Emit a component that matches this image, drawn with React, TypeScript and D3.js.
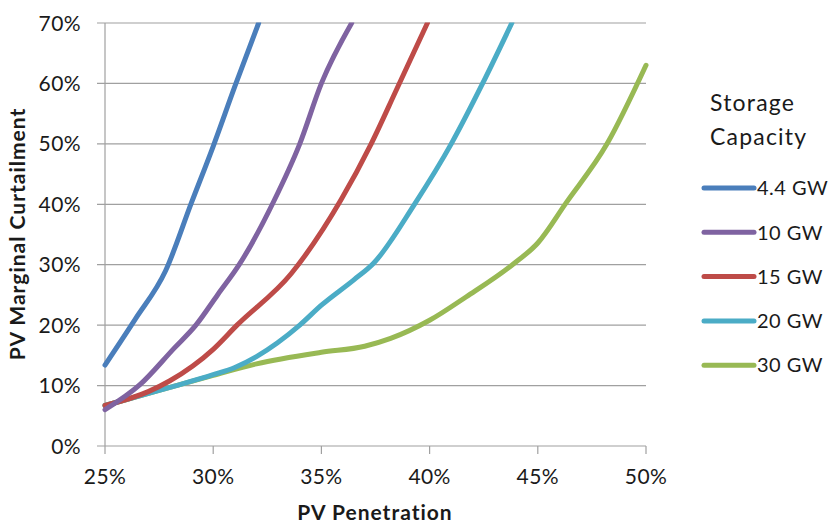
import { useMemo } from "react";
import * as d3 from "d3";

// PV penetration (%) / marginal curtailment (%) per storage capacity
const blueX = [25, 26.4, 27.8, 29, 30, 31, 32.1];
const blueY = [13.4, 21, 29, 40.3, 49.6, 59.5, 70];

const purpleX = [25, 26.6, 28.2, 29.2, 30.2, 31.2, 32.8, 34, 35, 36.4];
const purpleY = [6, 10.1, 16.2, 20, 25, 30, 40.5, 50, 60, 70];

const redX = [25, 27, 28, 30, 31.1, 33.6, 35.9, 37.3, 38.5, 39.9];
const redY = [6.7, 9, 10.8, 16, 20, 28.5, 40.7, 50, 59.2, 70];

const cyanX = [25, 28, 30, 31, 32, 34, 35, 36.5, 37.4, 39.3, 41, 42.45, 43.8];
const cyanY = [6.7, 9.7, 11.8, 13, 14.8, 20, 23.3, 27.5, 30.2, 40, 50, 60, 70];

const greenX = [25, 27, 30, 32, 35, 37, 38.2, 40, 41.7, 43.9, 45, 46.3, 48.2, 50];
const greenY = [6.7, 8.7, 11.7, 13.6, 15.5, 16.5, 17.8, 20.8, 24.7, 30.2, 33.6, 40.2, 50, 63];

const seriesNames = ["4.4 GW", "10 GW", "15 GW", "20 GW", "30 GW"];
const seriesColors = ["#4A7EBB", "#7F63A1", "#BE4B48", "#4BACC6", "#98B954"];
const seriesX = [blueX, purpleX, redX, cyanX, greenX];
const seriesY = [blueY, purpleY, redY, cyanY, greenY];

const xTicks = [25, 30, 35, 40, 45, 50];
const yTicks = [0, 10, 20, 30, 40, 50, 60, 70];

const W = 833;
const H = 527;
const M = { left: 105, right: 833 - 646, top: 23, bottom: 527 - 446 };
const FONT = "Lato, 'Open Sans', sans-serif";

export default function App() {
  const x = useMemo(() => d3.scaleLinear().domain([25, 50]).range([M.left, W - M.right]), []);
  const y = useMemo(() => d3.scaleLinear().domain([0, 70]).range([H - M.bottom, M.top]), []);

  const line = d3.line<[number, number]>()
    .x((d) => x(d[0]))
    .y((d) => y(d[1]))
    .curve(d3.curveMonotoneX);

  return (
    <svg width={W} height={H} style={{ position: "absolute", left: 0, top: 0, background: "#fff" }} fontFamily={FONT}>
      {/* grid */}
      {yTicks.map((t) => (
        <line key={t} x1={M.left - 8} x2={W - M.right} y1={y(t)} y2={y(t)} stroke="#A0A0A0" strokeWidth={1.2} />
      ))}
      <line x1={M.left} x2={M.left} y1={y(70)} y2={y(0)} stroke="#A0A0A0" strokeWidth={1.2} />
      {xTicks.map((t) => (
        <line key={t} x1={x(t)} x2={x(t)} y1={y(0)} y2={y(0) + 8} stroke="#A0A0A0" strokeWidth={1.2} />
      ))}

      {/* tick labels */}
      {yTicks.map((t) => (
        <text key={t} x={M.left - 24} y={y(t)} dy="0.36em" textAnchor="end" fontSize={21} letterSpacing={0.4} fill="#1a1a1a">{t}%</text>
      ))}
      {xTicks.map((t) => (
        <text key={t} x={x(t)} y={484} textAnchor="middle" fontSize={21} letterSpacing={0.4} fill="#1a1a1a">{t}%</text>
      ))}

      {/* axis titles */}
      <text x={375} y={520} textAnchor="middle" fontSize={21} letterSpacing={1} fontWeight="bold" fill="#1a1a1a">PV Penetration</text>
      <text transform={`translate(25, ${234}) rotate(-90)`} textAnchor="middle" fontSize={21} letterSpacing={1} fontWeight="bold" fill="#1a1a1a">PV Marginal Curtailment</text>

      {/* series, clipped to the plot */}
      <defs>
        <clipPath id="plot">
          <rect x={M.left - 5} y={M.top - 0.5} width={W - M.right - M.left + 10} height={H - M.bottom - M.top + 5} />
        </clipPath>
      </defs>
      <g clipPath="url(#plot)">
        {[4, 3, 2, 1, 0].map((i) => (
          <path key={i}
            d={line(seriesX[i].map((v, j) => [v, seriesY[i][j]] as [number, number])) ?? ""}
            fill="none" stroke={seriesColors[i]} strokeWidth={5} strokeLinejoin="round" strokeLinecap="round" />
        ))}
      </g>

      {/* legend */}
      <text x={710} y={111} fontSize={23} letterSpacing={1.2} fill="#1a1a1a">Storage</text>
      <text x={710} y={145} fontSize={23} letterSpacing={1.2} fill="#1a1a1a">Capacity</text>
      {seriesNames.map((n, i) => (
        <g key={n} transform={`translate(0, ${188 + i * 44.3})`}>
          <line x1={704} x2={754} y1={0} y2={0} stroke={seriesColors[i]} strokeWidth={5} strokeLinecap="round" />
          <text x={757} y={0} dy="0.36em" fontSize={20} letterSpacing={0.5} fill="#1a1a1a">{n}</text>
        </g>
      ))}
    </svg>
  );
}
